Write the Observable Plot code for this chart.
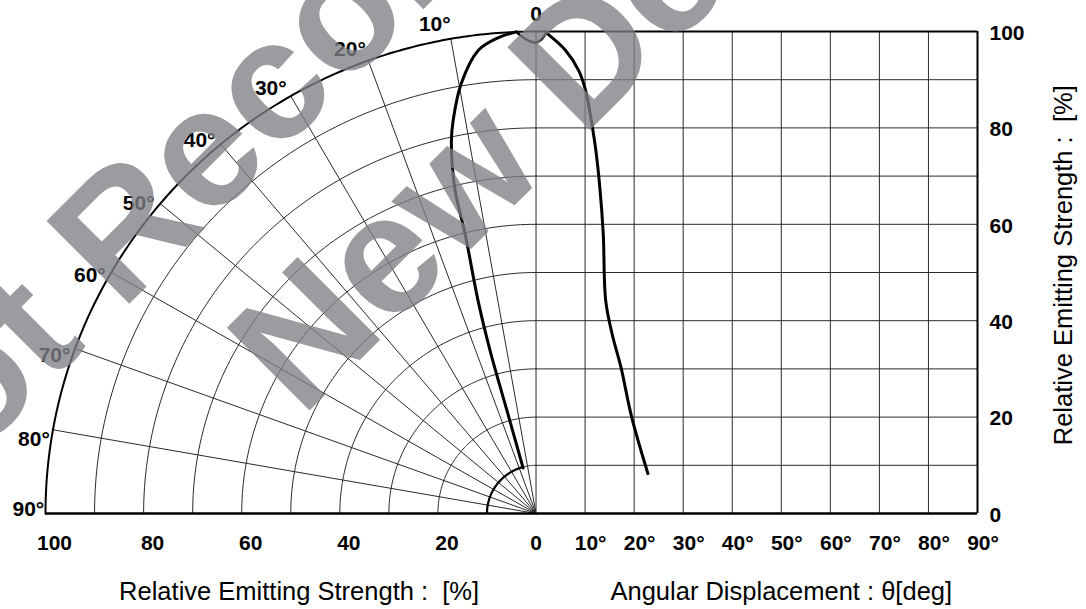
<!DOCTYPE html>
<html>
<head>
<meta charset="utf-8">
<script src="https://cdn.jsdelivr.net/npm/d3@7"></script>
<script src="https://cdn.jsdelivr.net/npm/@observablehq/plot@0.6"></script>
<style>
  html, body { margin: 0; padding: 0; background: #fff; }
  #chart { width: 1086px; height: 609px; overflow: hidden; }
</style>
</head>
<body>
<div id="chart"></div>
<script>
// ---------- tick labels ----------
const strengthTickLabels = [100, 80, 60, 40, 20, 0];          // bottom, polar side
const angleTickLabels = [10, 20, 30, 40, 50, 60, 70, 80, 90];  // bottom, cartesian side
const rightTickLabels = [0, 20, 40, 60, 80, 100];              // right axis
const polarAngleLabels = [0, 10, 20, 30, 40, 50, 60, 70, 80, 90];

const leftTitle = "Relative Emitting Strength :  [%]";
const bottomTitle = "Angular Displacement : \u03b8[deg]";
const rightTitle = "Relative Emitting Strength :  [%]";
const watermark = "Not Recommended for\nNew Designs";

// ---------- data ----------
// polar pattern, left half: angle θ (deg) and relative strength (%)
const polarTheta    = [2.3, 4.5, 7.0, 9.7, 11.7, 12.6, 13.8, 14.0, 15.0, 15.5, 15.5, 15.6];
const polarStrength = [100, 99.0, 96.8, 90.5, 83.3, 79.1, 69.4, 59.7, 45.5, 34.9, 21.3, 9.8];

// small notch at 0°: left part in polar form, right part in angle/strength form
const notchTheta    = [2.3, 1.2, 0];
const notchStrength = [100, 98.4, 97.7];
const notchAngleR    = [1.0, 2.1];
const notchStrengthR = [98.3, 99.7];

// cartesian curve: angular displacement (deg) vs relative strength (%)
const rectAngle    = [2.1, 6.0, 8.7, 10.1, 11.5, 12.2, 13.0, 13.7, 14.2, 15.5, 17.3, 19.5, 22.8];
const rectStrength = [99.7, 96.1, 91.9, 87.8, 80.1, 75.3, 67.7, 58.1, 44.2, 37.3, 30.4, 20.0, 8.3];

// ---------- helpers ----------
const rad = d => d * Math.PI / 180;
const pX = (t, r) => -r * Math.sin(rad(t));
const pY = (t, r) => r * Math.cos(rad(t));

const polarCurve = polarTheta.map((t, i) => ({x: pX(t, polarStrength[i]), y: pY(t, polarStrength[i])}));
const notchCurve = notchTheta.map((t, i) => ({x: pX(t, notchStrength[i]), y: pY(t, notchStrength[i])}))
  .concat(notchAngleR.map((a, i) => ({x: a, y: notchStrengthR[i]})));
const rectCurve = rectAngle.map((a, i) => ({x: a, y: rectStrength[i]}));

// polar grid geometry
const rings = d3.range(10, 100, 10);
const ringPts = rings.flatMap(r => d3.range(0, 90.001, 1).map(t => ({r, x: pX(t, r), y: pY(t, r)})));
const outerPts = d3.range(0, 90.001, 0.5).map(t => ({x: pX(t, 100), y: pY(t, 100)}));
const lowEnd = polarTheta[polarTheta.length - 1];
const innerBold = d3.range(lowEnd, 90.001, 1).map(t => ({x: pX(t, 10), y: pY(t, 10)}));
const radials = d3.range(10, 90, 10).flatMap(t => [{t, x: 0, y: 0}, {t, x: pX(t, 100), y: pY(t, 100)}]);

const labAng = d => d === 0 ? 0 : d === 90 ? 89.5 : d + 1.5;
const labR = 103.5;

const FONT = "'Liberation Sans', Arial, Helvetica, sans-serif";
const gridStroke = "#2a2a2a";

const chart = Plot.plot({
  width: 1086,
  height: 609,
  marginLeft: 45,
  marginRight: 109,
  marginTop: 31,
  marginBottom: 96,
  x: {domain: [-100, 90], axis: null},
  y: {domain: [0, 100], axis: null},
  style: {fontFamily: FONT, background: "#fff", color: "#000"},
  marks: [
    // polar grid
    Plot.line(ringPts, {x: "x", y: "y", z: "r", stroke: gridStroke, strokeWidth: 1}),
    Plot.line(radials, {x: "x", y: "y", z: "t", stroke: gridStroke, strokeWidth: 1}),
    // cartesian grid
    Plot.ruleX(d3.range(0, 90, 10), {y1: 0, y2: 100, stroke: gridStroke, strokeWidth: 1}),
    Plot.ruleY(d3.range(10, 100, 10), {x1: 0, x2: 90, stroke: gridStroke, strokeWidth: 1}),
    // frame
    Plot.line(outerPts, {x: "x", y: "y", stroke: "#000", strokeWidth: 2}),
    Plot.line(innerBold, {x: "x", y: "y", stroke: "#000", strokeWidth: 2.2}),
    Plot.ruleX([90], {y1: 0, y2: 100, stroke: "#000", strokeWidth: 2}),
    Plot.ruleY([100], {x1: 0, x2: 90, stroke: "#000", strokeWidth: 2}),
    Plot.ruleY([0], {x1: -100, x2: 90, stroke: "#000", strokeWidth: 2.5}),
    // data curves
    Plot.line(polarCurve, {x: "x", y: "y", curve: "catmull-rom", stroke: "#000", strokeWidth: 3}),
    Plot.line(notchCurve, {x: "x", y: "y", curve: "catmull-rom", stroke: "#000", strokeWidth: 2.6}),
    Plot.line(rectCurve, {x: "x", y: "y", curve: "catmull-rom", stroke: "#000", strokeWidth: 3}),
    // tick labels
    Plot.text(strengthTickLabels.filter(d => d !== 0), {x: d => -d, y: 0, text: d => String(d), dx: 9, dy: 30, fontSize: 21, fontWeight: "bold"}),
    Plot.text([0], {x: 0, y: 0, text: d => String(d), dy: 30, fontSize: 21, fontWeight: "bold"}),
    Plot.text(angleTickLabels, {x: d => d, y: 0, text: d => d + "\u00b0", dx: 5.5, dy: 30, fontSize: 21, fontWeight: "bold"}),
    Plot.text(rightTickLabels, {x: 90, y: d => d, text: d => String(d), dx: 12, dy: 1.5, textAnchor: "start", fontSize: 21, fontWeight: "bold"}),
    Plot.text(polarAngleLabels, {x: d => pX(labAng(d), labR), y: d => pY(labAng(d), labR), text: d => d === 0 ? "0" : d + "\u00b0", fontSize: 21, fontWeight: "bold"}),
    // axis titles
    Plot.text([leftTitle], {x: -48.3, y: 0, text: d => d, dy: 78, fontSize: 25.5}),
    Plot.text([bottomTitle], {x: 50, y: 0, text: d => d, dy: 78, fontSize: 25.5}),
    Plot.text([rightTitle], {x: 90, y: 51.5, text: d => d, dx: 86, rotate: -90, fontSize: 25.5}),
    // watermark
    Plot.text([watermark], {frameAnchor: "top-left", text: d => d, dx: 630, dy: 13, rotate: -45,
      fontSize: 170, fontWeight: "bold", fill: "#7f8084", fillOpacity: 0.78,
      lineAnchor: "bottom", lineHeight: 1.194, textAnchor: "middle"})
  ]
});
document.getElementById("chart").appendChild(chart);
</script>
</body>
</html>
